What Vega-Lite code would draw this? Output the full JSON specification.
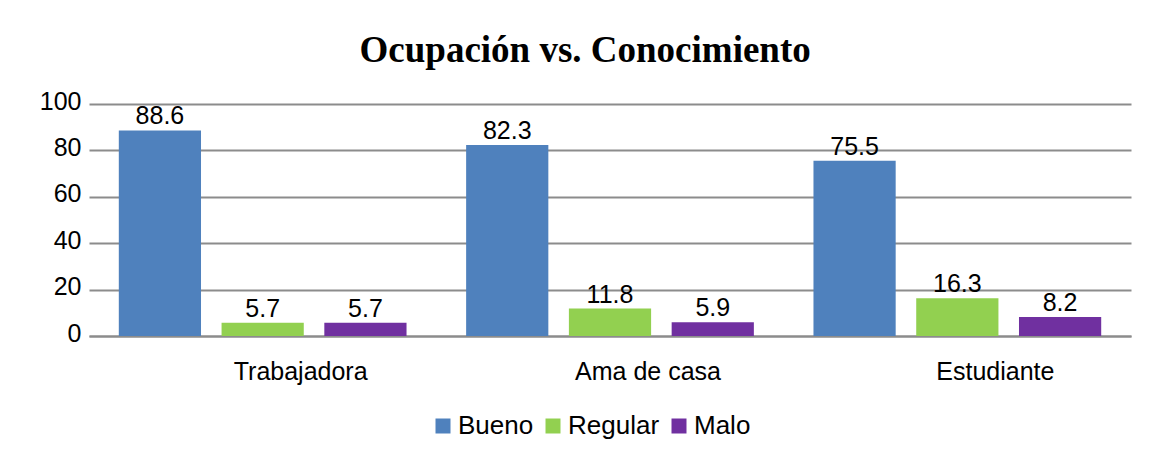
{
  "$schema": "https://vega.github.io/schema/vega-lite/v6.json",
  "width": 1042,
  "height": 232,
  "padding": {"left": 39, "top": 32, "right": 5, "bottom": 5},
  "background": "white",
  "title": {
    "text": "Ocupación vs. Conocimiento",
    "font": "Liberation Serif",
    "fontSize": 37,
    "fontWeight": "bold",
    "color": "black",
    "anchor": "middle",
    "frame": "bounds",
    "baseline": "alphabetic",
    "offset": -10
  },
  "data": {
    "values": [
      {"ocupacion": "Trabajadora", "nivel": "Bueno", "valor": 88.6},
      {"ocupacion": "Trabajadora", "nivel": "Regular", "valor": 5.7},
      {"ocupacion": "Trabajadora", "nivel": "Malo", "valor": 5.7},
      {"ocupacion": "Ama de casa", "nivel": "Bueno", "valor": 82.3},
      {"ocupacion": "Ama de casa", "nivel": "Regular", "valor": 11.8},
      {"ocupacion": "Ama de casa", "nivel": "Malo", "valor": 5.9},
      {"ocupacion": "Estudiante", "nivel": "Bueno", "valor": 75.5},
      {"ocupacion": "Estudiante", "nivel": "Regular", "valor": 16.3},
      {"ocupacion": "Estudiante", "nivel": "Malo", "valor": 8.2}
    ]
  },
  "encoding": {
    "x": {
      "field": "ocupacion",
      "type": "nominal",
      "sort": ["Trabajadora", "Ama de casa", "Estudiante"],
      "scale": {"paddingInner": 0, "paddingOuter": 0},
      "axis": {
        "title": null,
        "labelAngle": 0,
        "labelFont": "Liberation Sans",
        "labelFontSize": 25,
        "labelColor": "black",
        "labelPadding": 23,
        "labelOffset": 38,
        "ticks": false,
        "domain": true,
        "domainColor": "#8c8c8c",
        "domainWidth": 2,
        "grid": false
      }
    },
    "xOffset": {
      "field": "nivel",
      "type": "nominal",
      "sort": ["Bueno", "Regular", "Malo"],
      "scale": {"paddingInner": 0.2, "paddingOuter": 0.29}
    },
    "y": {
      "field": "valor",
      "type": "quantitative",
      "scale": {"domain": [0, 100]},
      "axis": {
        "title": null,
        "values": [0, 20, 40, 60, 80, 100],
        "labelFont": "Liberation Sans",
        "labelFontSize": 25,
        "labelColor": "black",
        "labelPadding": 8,
        "labelOffset": -3,
        "ticks": false,
        "domain": false,
        "grid": true,
        "gridColor": "#8c8c8c",
        "gridWidth": 2
      }
    }
  },
  "layer": [
    {
      "mark": {"type": "bar"},
      "encoding": {
        "color": {
          "field": "nivel",
          "type": "nominal",
          "sort": ["Bueno", "Regular", "Malo"],
          "scale": {
            "domain": ["Bueno", "Regular", "Malo"],
            "range": ["#4F81BD", "#92D050", "#7030A0"]
          },
          "legend": {
            "title": null,
            "orient": "none",
            "legendX": 341,
            "legendY": 309,
            "direction": "horizontal",
            "symbolType": "square",
            "symbolSize": 225,
            "symbolStrokeWidth": 0,
            "labelFont": "Liberation Sans",
            "labelFontSize": 26,
            "labelColor": "black",
            "labelOffset": 2,
            "columnPadding": 6,
            "padding": 0
          }
        }
      }
    },
    {
      "mark": {
        "type": "text",
        "baseline": "alphabetic",
        "dy": -6,
        "font": "Liberation Sans",
        "fontSize": 25,
        "color": "black"
      },
      "encoding": {
        "text": {"field": "valor", "type": "quantitative", "format": ".1f"}
      }
    }
  ],
  "config": {
    "view": {"stroke": null}
  }
}
